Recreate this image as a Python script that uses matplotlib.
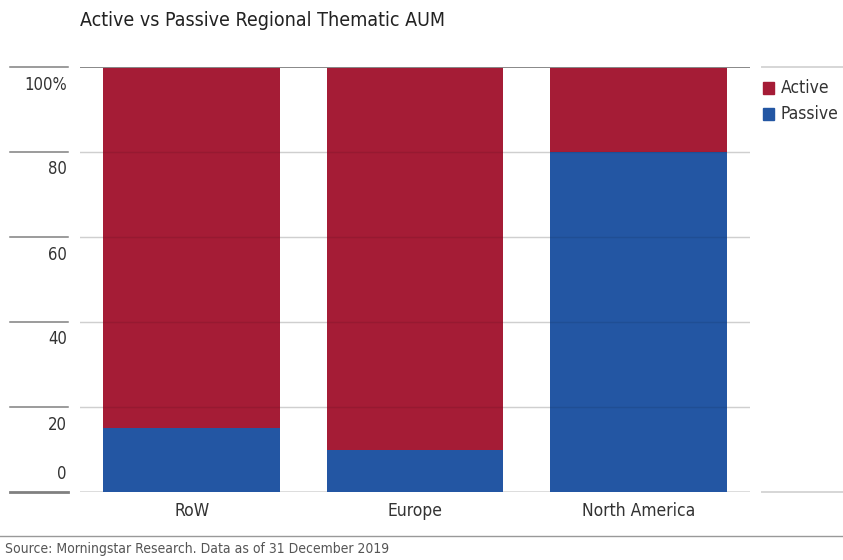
import matplotlib
matplotlib.use('Agg')
import matplotlib.pyplot as plt
from matplotlib.lines import Line2D
from matplotlib.patches import Rectangle
from matplotlib.transforms import blended_transform_factory

plt.rcParams['font.family'] = ['DejaVu Sans']
plt.rcParams['font.stretch'] = 'condensed'

# data (share of regional thematic AUM, %)
regions = ['RoW', 'Europe', 'North America']
passive = [15, 10, 80]
active = [85, 90, 20]
yticks = [0, 20, 40, 60, 80, 100]
ytick_labels = ['0', '20', '40', '60', '80', '100%']

RED = '#A51C36'
BLUE = '#2356A3'
TXT = '#333333'

W, H = 843, 560
fig = plt.figure(figsize=(W / 100, H / 100), dpi=100)

def fx(px):
    return px / W

def fy(py):
    return 1 - py / H

ax = fig.add_axes([fx(80), fy(492), fx(750) - fx(80), fy(67) - fy(492)])
x = range(len(regions))
ax.bar(x, passive, width=0.79, color=BLUE, zorder=2)
ax.bar(x, active, bottom=passive, width=0.79, color=RED, zorder=2)
ax.set_xlim(-0.5, 2.5)
ax.set_ylim(0, 100)
for s in ax.spines.values():
    s.set_visible(False)
ax.set_yticks([])
ax.set_xticks(list(x))
ax.set_xticklabels(regions, fontsize=12.5, color=TXT)
ax.tick_params(axis='x', length=0, pad=7)

# gridlines inside plot
for t in yticks:
    if t == 100:
        ax.axhline(t, color='#888888', lw=1.4, zorder=3)
    elif t == 0:
        ax.axhline(t, color='#d9d9d9', lw=2.0, zorder=1)
    else:
        ax.axhline(t, color='#e4e4e4', lw=1.0, zorder=1)
        ax.axhline(t, color='#000000', lw=1.0, zorder=3, alpha=0.09)

# y labels column on the left
ylab_tr = blended_transform_factory(fig.transFigure, ax.transData)
for t, lab in zip(yticks, ytick_labels):
    lw = 2.0 if t == 0 else 1.1
    ax.add_line(Line2D([fx(10), fx(68)], [t, t], transform=ylab_tr,
                       color='#808080', lw=lw, clip_on=False))
    if t == 0:
        ax.text(fx(67), t + 2.2, lab, transform=ylab_tr, ha='right', va='bottom',
                fontsize=12, color=TXT)
    else:
        ax.text(fx(67), t - 2.0, lab, transform=ylab_tr, ha='right', va='top',
                fontsize=12, color=TXT)

# legend column on the right
fig.add_artist(Line2D([fx(762), fx(843)], [fy(67)] * 2, color='#d6d6d6', lw=1.4))
fig.add_artist(Line2D([fx(762), fx(843)], [fy(492)] * 2, color='#d6d6d6', lw=1.4))
for i, (name, col) in enumerate([('Active', RED), ('Passive', BLUE)]):
    yc = 88 + i * 26
    fig.add_artist(Rectangle((fx(763), fy(yc + 6)), fx(11), fy(yc - 6) - fy(yc + 6), color=col))
    fig.text(fx(781), fy(yc), name, ha='left', va='center', fontsize=12.5, color=TXT)

# title and source
fig.text(fx(80), fy(21), 'Active vs Passive Regional Thematic AUM', ha='left', va='center',
         fontsize=14, color='#222222')
fig.add_artist(Line2D([0, 1], [fy(536)] * 2, color='#999999', lw=1.0))
fig.text(fx(5), fy(549), 'Source: Morningstar Research. Data as of 31 December 2019', ha='left',
         va='center', fontsize=10, color='#555555')

fig.savefig('out.png', dpi=100)
